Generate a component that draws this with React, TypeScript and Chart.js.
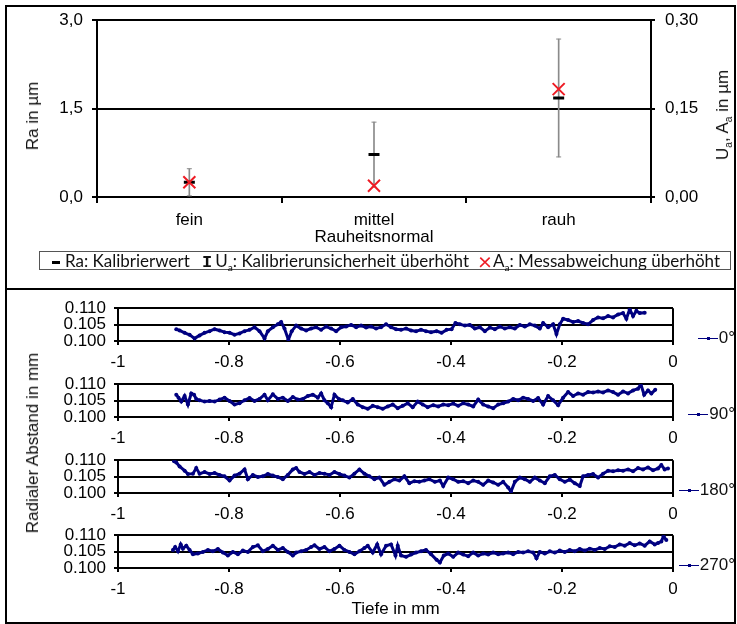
import React, { useEffect, useRef } from 'react';
import { Chart, registerables } from 'chart.js';

Chart.register(...registerables);

const FONT = '"Liberation Sans", Arial, sans-serif';
const LEGEND_FONT = 'Lato, "Open Sans", sans-serif';

// ---------- top chart data ----------
const categories = ['fein', 'mittel', 'rauh'];
const raKalibrierwert = [0.25, 0.72, 1.68]; // µm, left axis
const uaUnsicherheit = [0.023, 0.055, 0.1]; // µm, right axis
const aaMessabweichung = [0.025, 0.019, 0.183]; // µm, right axis
const ueberhoehung = 10; // ratio left axis / right axis
const raTicks = [0, 1.5, 3.0];
const uaTicks = [0, 0.15, 0.3];

// ---------- bottom charts data ----------
const depthTicks = [-1, -0.8, -0.6, -0.4, -0.2, 0];
const radialTicks = [0.1, 0.105, 0.11];

const depth0 = [-0.895,-0.889,-0.880,-0.871,-0.862,-0.853,-0.844,-0.835,-0.826,-0.817,-0.808,-0.799,-0.790,-0.781,-0.772,-0.763,-0.754,-0.745,-0.736,-0.730,-0.721,-0.712,-0.706,-0.700,-0.693,-0.687,-0.679,-0.670,-0.661,-0.652,-0.643,-0.634,-0.625,-0.616,-0.607,-0.598,-0.589,-0.580,-0.571,-0.562,-0.553,-0.544,-0.535,-0.526,-0.517,-0.508,-0.499,-0.490,-0.481,-0.472,-0.463,-0.454,-0.445,-0.436,-0.426,-0.417,-0.408,-0.399,-0.392,-0.384,-0.375,-0.366,-0.357,-0.348,-0.339,-0.330,-0.321,-0.312,-0.303,-0.294,-0.285,-0.276,-0.267,-0.258,-0.249,-0.240,-0.234,-0.225,-0.216,-0.210,-0.204,-0.198,-0.189,-0.180,-0.171,-0.162,-0.153,-0.144,-0.135,-0.126,-0.117,-0.108,-0.099,-0.090,-0.084,-0.078,-0.072,-0.066,-0.060,-0.051];
const radial0 = [0.1036,0.1032,0.1025,0.1019,0.1008,0.1017,0.1025,0.1030,0.1036,0.1032,0.1027,0.1025,0.1019,0.1023,0.1030,0.1034,0.1042,0.1030,0.1008,0.1030,0.1042,0.1051,0.1058,0.1038,0.1004,0.1030,0.1047,0.1038,0.1032,0.1038,0.1042,0.1034,0.1044,0.1038,0.1030,0.1042,0.1044,0.1049,0.1042,0.1047,0.1041,0.1044,0.1038,0.1042,0.1051,0.1042,0.1036,0.1034,0.1038,0.1032,0.1030,0.1034,0.1030,0.1027,0.1030,0.1025,0.1034,0.1036,0.1055,0.1051,0.1047,0.1049,0.1038,0.1042,0.1030,0.1041,0.1036,0.1044,0.1038,0.1042,0.1038,0.1049,0.1044,0.1051,0.1047,0.1038,0.1055,0.1042,0.1051,0.1021,0.1051,0.1068,0.1064,0.1058,0.1061,0.1055,0.1051,0.1064,0.1072,0.1069,0.1076,0.1072,0.1081,0.1085,0.1068,0.1097,0.1076,0.1092,0.1085,0.1086];

const depth90 = [-0.895,-0.891,-0.886,-0.880,-0.874,-0.868,-0.863,-0.859,-0.853,-0.844,-0.835,-0.826,-0.817,-0.808,-0.799,-0.790,-0.781,-0.772,-0.763,-0.754,-0.745,-0.736,-0.730,-0.721,-0.712,-0.703,-0.694,-0.685,-0.676,-0.667,-0.658,-0.649,-0.640,-0.634,-0.628,-0.622,-0.616,-0.610,-0.602,-0.595,-0.586,-0.577,-0.568,-0.559,-0.550,-0.541,-0.532,-0.523,-0.514,-0.505,-0.496,-0.487,-0.478,-0.469,-0.460,-0.451,-0.442,-0.432,-0.423,-0.414,-0.405,-0.396,-0.387,-0.378,-0.369,-0.360,-0.351,-0.342,-0.333,-0.324,-0.315,-0.306,-0.297,-0.288,-0.279,-0.270,-0.261,-0.252,-0.243,-0.234,-0.225,-0.216,-0.207,-0.198,-0.189,-0.180,-0.171,-0.162,-0.153,-0.144,-0.135,-0.126,-0.117,-0.108,-0.099,-0.090,-0.081,-0.072,-0.063,-0.058,-0.052,-0.045,-0.039,-0.032];
const radial90 = [0.1068,0.1059,0.1047,0.1064,0.1038,0.1072,0.1068,0.1055,0.1051,0.1047,0.1049,0.1047,0.1053,0.1059,0.1049,0.1038,0.1042,0.1051,0.1058,0.1049,0.1055,0.1068,0.1051,0.1069,0.1055,0.1059,0.1049,0.1061,0.1053,0.1055,0.1064,0.1068,0.1059,0.1072,0.1051,0.1042,0.1030,0.1068,0.1055,0.1051,0.1044,0.1055,0.1038,0.1030,0.1025,0.1034,0.1030,0.1025,0.1032,0.1038,0.1027,0.1034,0.1042,0.1030,0.1047,0.1038,0.1030,0.1036,0.1032,0.1038,0.1036,0.1041,0.1034,0.1042,0.1038,0.1032,0.1053,0.1038,0.1032,0.1027,0.1038,0.1042,0.1047,0.1055,0.1051,0.1059,0.1055,0.1049,0.1058,0.1038,0.1064,0.1051,0.1036,0.1059,0.1076,0.1064,0.1072,0.1068,0.1076,0.1075,0.1078,0.1075,0.1081,0.1076,0.1068,0.1078,0.1072,0.1081,0.1086,0.1100,0.1068,0.1081,0.1072,0.1083];

const depth180 = [-0.899,-0.895,-0.889,-0.880,-0.874,-0.865,-0.859,-0.853,-0.844,-0.835,-0.826,-0.817,-0.808,-0.799,-0.790,-0.781,-0.772,-0.766,-0.757,-0.748,-0.739,-0.730,-0.721,-0.712,-0.703,-0.694,-0.685,-0.679,-0.673,-0.664,-0.655,-0.646,-0.637,-0.628,-0.619,-0.610,-0.601,-0.592,-0.583,-0.574,-0.565,-0.556,-0.547,-0.538,-0.529,-0.520,-0.511,-0.502,-0.493,-0.484,-0.475,-0.466,-0.457,-0.448,-0.439,-0.429,-0.420,-0.414,-0.405,-0.396,-0.387,-0.378,-0.369,-0.360,-0.351,-0.342,-0.333,-0.324,-0.315,-0.306,-0.297,-0.292,-0.285,-0.276,-0.267,-0.258,-0.249,-0.240,-0.231,-0.222,-0.213,-0.204,-0.195,-0.186,-0.177,-0.168,-0.162,-0.153,-0.144,-0.135,-0.126,-0.117,-0.108,-0.099,-0.090,-0.081,-0.072,-0.063,-0.054,-0.045,-0.036,-0.027,-0.021,-0.015,-0.009];
const radial180 = [0.1097,0.1093,0.1081,0.1068,0.1058,0.1059,0.1076,0.1059,0.1064,0.1058,0.1061,0.1055,0.1051,0.1038,0.1053,0.1059,0.1072,0.1042,0.1055,0.1049,0.1051,0.1058,0.1053,0.1049,0.1042,0.1055,0.1072,0.1076,0.1064,0.1058,0.1064,0.1055,0.1061,0.1059,0.1055,0.1064,0.1058,0.1053,0.1047,0.1059,0.1072,0.1059,0.1051,0.1042,0.1047,0.1025,0.1034,0.1042,0.1038,0.1051,0.1030,0.1036,0.1034,0.1038,0.1042,0.1034,0.1038,0.1021,0.1047,0.1042,0.1034,0.1036,0.1030,0.1038,0.1034,0.1025,0.1038,0.1032,0.1025,0.1034,0.1017,0.1004,0.1034,0.1047,0.1042,0.1034,0.1047,0.1038,0.1030,0.1051,0.1055,0.1042,0.1034,0.1041,0.1030,0.1021,0.1051,0.1055,0.1058,0.1047,0.1059,0.1068,0.1066,0.1069,0.1068,0.1072,0.1066,0.1076,0.1072,0.1078,0.1069,0.1075,0.1085,0.1072,0.1075];

const depth270 = [-0.901,-0.897,-0.892,-0.887,-0.883,-0.877,-0.871,-0.865,-0.856,-0.847,-0.838,-0.829,-0.820,-0.811,-0.802,-0.793,-0.784,-0.775,-0.766,-0.757,-0.748,-0.739,-0.730,-0.721,-0.712,-0.703,-0.694,-0.685,-0.679,-0.670,-0.661,-0.652,-0.646,-0.637,-0.628,-0.619,-0.610,-0.601,-0.592,-0.583,-0.574,-0.565,-0.556,-0.550,-0.541,-0.533,-0.526,-0.517,-0.508,-0.500,-0.496,-0.490,-0.481,-0.472,-0.463,-0.454,-0.445,-0.436,-0.426,-0.420,-0.413,-0.405,-0.396,-0.387,-0.378,-0.369,-0.360,-0.351,-0.342,-0.333,-0.324,-0.315,-0.306,-0.297,-0.288,-0.279,-0.270,-0.261,-0.252,-0.246,-0.240,-0.231,-0.222,-0.213,-0.204,-0.195,-0.186,-0.177,-0.168,-0.159,-0.150,-0.141,-0.132,-0.123,-0.114,-0.105,-0.096,-0.087,-0.078,-0.069,-0.060,-0.051,-0.042,-0.033,-0.027,-0.021,-0.017,-0.012];
const radial270 = [0.1055,0.1064,0.1051,0.1072,0.1059,0.1068,0.1055,0.1042,0.1044,0.1049,0.1055,0.1051,0.1058,0.1047,0.1038,0.1049,0.1042,0.1053,0.1049,0.1064,0.1069,0.1051,0.1058,0.1068,0.1055,0.1061,0.1049,0.1038,0.1047,0.1051,0.1055,0.1064,0.1069,0.1058,0.1064,0.1051,0.1058,0.1068,0.1055,0.1049,0.1042,0.1051,0.1061,0.1068,0.1047,0.1072,0.1042,0.1068,0.1072,0.1038,0.1068,0.1038,0.1034,0.1041,0.1047,0.1051,0.1055,0.1042,0.1025,0.1017,0.1038,0.1044,0.1034,0.1047,0.1041,0.1036,0.1047,0.1038,0.1044,0.1041,0.1047,0.1042,0.1044,0.1047,0.1042,0.1049,0.1047,0.1051,0.1047,0.1030,0.1049,0.1044,0.1051,0.1047,0.1053,0.1049,0.1055,0.1051,0.1058,0.1053,0.1059,0.1055,0.1061,0.1058,0.1066,0.1064,0.1072,0.1068,0.1076,0.1069,0.1075,0.1068,0.1081,0.1072,0.1076,0.1081,0.1097,0.1085];

const angleSeries = [
  { label: '0°', depth: depth0, radial: radial0 },
  { label: '90°', depth: depth90, radial: radial90 },
  { label: '180°', depth: depth180, radial: radial180 },
  { label: '270°', depth: depth270, radial: radial270 },
];

// ---------- layout ----------
const TOP_H = 250;
const PLOT_TOPS = [302, 378, 454, 529];
const PLOT_H = 39;
const PAD_TOP = 12;

function TopChart() {
  const ref = useRef<HTMLCanvasElement>(null);
  useEffect(() => {
    const errLow = raKalibrierwert.map((r, i) => r - uaUnsicherheit[i] * ueberhoehung);
    const errHigh = raKalibrierwert.map((r, i) => r + uaUnsicherheit[i] * ueberhoehung);
    const tickFont = { size: 17, family: FONT };
    const chart = new Chart(ref.current as HTMLCanvasElement, {
      type: 'bar',
      data: {
        labels: categories,
        datasets: [
          {
            type: 'line', label: 'Aa', data: aaMessabweichung, yAxisID: 'y1', showLine: false,
            pointStyle: 'crossRot', pointRadius: 8.5, pointBorderWidth: 2,
            pointBorderColor: '#ee1c25', pointBackgroundColor: '#ee1c25', order: 0,
          } as any,
          {
            type: 'line', label: 'Ra', data: raKalibrierwert, yAxisID: 'y', showLine: false,
            pointStyle: 'line', pointRadius: 5.5, pointBorderWidth: 3,
            pointBorderColor: '#000', pointBackgroundColor: '#000', order: 1,
          } as any,
          {
            type: 'line', label: 'low', data: errLow, yAxisID: 'y', showLine: false,
            pointStyle: 'line', pointRadius: 2.5, pointBorderWidth: 1,
            pointBorderColor: '#8a8a8a', order: 2,
          } as any,
          {
            type: 'line', label: 'high', data: errHigh, yAxisID: 'y', showLine: false,
            pointStyle: 'line', pointRadius: 2.5, pointBorderWidth: 1,
            pointBorderColor: '#8a8a8a', order: 2,
          } as any,
          {
            type: 'bar', label: 'Ua', data: errLow.map((l, i) => [l, errHigh[i]]), yAxisID: 'y',
            backgroundColor: '#8a8a8a', barThickness: 1, order: 3,
          } as any,
        ],
      },
      options: {
        animation: false,
        responsive: false,
        layout: { padding: { top: 20, left: 0, right: 0, bottom: 0 } },
        plugins: { legend: { display: false }, tooltip: { enabled: false } },
        scales: {
          x: {
            type: 'category',
            offset: true,
            grid: { offset: true, drawOnChartArea: false, drawTicks: true, tickLength: 6, color: '#000', tickColor: '#000', lineWidth: 2 },
            border: { display: true, color: '#000', width: 2 },
            ticks: { color: '#000', font: tickFont, padding: 7 },
            title: { display: true, text: 'Rauheitsnormal', color: '#000', font: tickFont, padding: { top: 0, bottom: 2 } },
            afterFit: (s: any) => { s.height = 53; },
          },
          y: {
            position: 'left',
            min: 0, max: 3,
            afterBuildTicks: (s: any) => { s.ticks = raTicks.map((v) => ({ value: v })); },
            ticks: { autoSkip: false, color: '#000', font: tickFont, padding: 9, callback: (v: any) => Number(v).toFixed(1).replace('.', ',') },
            grid: { color: '#000', lineWidth: 2, tickLength: 5 },
            border: { display: true, color: '#000', width: 2 },
            afterFit: (s: any) => { s.width = 97; },
          },
          y1: {
            position: 'right',
            min: 0, max: 0.3,
            afterBuildTicks: (s: any) => { s.ticks = uaTicks.map((v) => ({ value: v })); },
            ticks: { autoSkip: false, color: '#000', font: tickFont, padding: 10, callback: (v: any) => Number(v).toFixed(2).replace('.', ',') },
            grid: { drawOnChartArea: false, color: '#000', lineWidth: 2, tickLength: 4 },
            border: { display: true, color: '#000', width: 2 },
            afterFit: (s: any) => { s.width = 86; },
          },
        },
      } as any,
    });
    return () => chart.destroy();
  }, []);
  return <canvas ref={ref} width={737} height={TOP_H} style={{ position: 'absolute', left: 0, top: 0 }} />;
}

function DepthChart({ depth, radial, plotTop, showTitle }: { depth: number[]; radial: number[]; plotTop: number; showTitle: boolean }) {
  const ref = useRef<HTMLCanvasElement>(null);
  const axisH = showTitle ? 56 : 30;
  const h = PAD_TOP + PLOT_H + axisH;
  useEffect(() => {
    const tickFont = { size: 17, family: FONT };
    const chart = new Chart(ref.current as HTMLCanvasElement, {
      type: 'scatter',
      data: {
        datasets: [
          {
            data: depth.map((d, i) => ({ x: d, y: radial[i] })),
            showLine: true,
            borderColor: '#000080',
            backgroundColor: '#000080',
            borderWidth: 3,
            pointRadius: 2,
            pointBorderWidth: 0,
          },
        ],
      },
      options: {
        animation: false,
        responsive: false,
        layout: { padding: { top: PAD_TOP, right: 64, left: 0, bottom: 0 } },
        plugins: { legend: { display: false }, tooltip: { enabled: false } },
        scales: {
          x: {
            type: 'linear',
            min: -1, max: 0,
            afterBuildTicks: (s: any) => { s.ticks = depthTicks.map((v) => ({ value: v })); },
            ticks: { autoSkip: false, maxRotation: 0, color: '#000', font: tickFont, padding: 7, callback: (v: any) => String(v) },
            grid: {
              color: (ctx: any) => (ctx.tick && ctx.tick.value === 0 ? '#000' : 'rgba(0,0,0,0)'),
              tickColor: '#000',
              lineWidth: 2,
              tickLength: 4,
            },
            border: { display: true, color: '#000', width: 2 },
            title: { display: showTitle, text: 'Tiefe in mm', color: '#000', font: tickFont, padding: { top: 0, bottom: 4 } },
            afterFit: (s: any) => { s.height = axisH; },
          },
          y: {
            min: 0.1, max: 0.11,
            afterBuildTicks: (s: any) => { s.ticks = radialTicks.map((v) => ({ value: v })); },
            ticks: { autoSkip: false, color: '#000', font: tickFont, padding: 8, callback: (v: any) => Number(v).toFixed(3) },
            grid: { color: '#000', lineWidth: 2, tickLength: 4 },
            border: { display: true, color: '#000', width: 2 },
            afterFit: (s: any) => { s.width = 118; },
          },
        },
      } as any,
    });
    return () => chart.destroy();
  }, []);
  return <canvas ref={ref} width={737} height={h} style={{ position: 'absolute', left: 0, top: plotTop - PAD_TOP }} />;
}

const subStyle: React.CSSProperties = { fontSize: '0.6em', verticalAlign: 'sub', lineHeight: 0 };

function rotated(cx: number, cy: number, content: React.ReactNode, size = 17) {
  return (
    <div
      style={{
        position: 'absolute', left: cx, top: cy, transform: 'translate(-50%, -50%) rotate(-90deg)',
        whiteSpace: 'nowrap', fontFamily: FONT, fontSize: size, color: '#111', lineHeight: '20px',
      }}
    >
      {content}
    </div>
  );
}

const legendItem: React.CSSProperties = { position: 'absolute', top: 0, height: 17, lineHeight: '17px', whiteSpace: 'nowrap' };

export default function App() {
  return (
    <div style={{ position: 'absolute', left: 0, top: 0, width: 737, height: 624, background: '#fff', overflow: 'hidden' }}>
      <div style={{ position: 'absolute', left: 5, top: 5, width: 731, height: 619, border: '2px solid #000', boxSizing: 'border-box' }} />
      <div style={{ position: 'absolute', left: 5, top: 288, width: 731, height: 2, background: '#000' }} />

      <TopChart />
      {rotated(33, 116, <span>Ra in µm</span>)}
      {rotated(723, 115, <span>U<sub style={subStyle}>a</sub>, A<sub style={subStyle}>a</sub> in µm</span>)}

      <div
        style={{
          position: 'absolute', left: 39, top: 251, width: 692, height: 19, border: '1px solid #555',
          boxSizing: 'border-box', fontFamily: LEGEND_FONT, fontSize: 17, color: '#111', background: '#fff',
        }}
      >
        <span style={{ ...legendItem, left: 12 }}>
          <span style={{ display: 'inline-block', width: 8, height: 2.5, background: '#000', verticalAlign: 'middle', marginRight: 5 }} />
          Ra: Kalibrierwert
        </span>
        <span style={{ ...legendItem, left: 162 }}>
          <span style={{ fontFamily: '"Liberation Mono", monospace', fontWeight: 'bold', marginRight: 3 }}>I</span>
          U<sub style={subStyle}>a</sub>: Kalibrierunsicherheit überhöht
        </span>
        <span style={{ ...legendItem, left: 438 }}>
          <span style={{ display: 'inline-block', color: '#ee1c25', fontSize: 24, height: 17, lineHeight: '17px', verticalAlign: 'top', marginRight: 1 }}>×</span>
          A<sub style={subStyle}>a</sub>: Messabweichung überhöht
        </span>
      </div>

      {angleSeries.map((s, i) => (
        <DepthChart key={s.label} depth={s.depth} radial={s.radial} plotTop={PLOT_TOPS[i]} showTitle={i === angleSeries.length - 1} />
      ))}
      {angleSeries.map((s, i) => (
        <div
          key={'lg' + s.label}
          style={{
            position: 'absolute', right: 2, top: PLOT_TOPS[i] + PLOT_H - 3 - 10, height: 20, display: 'flex',
            alignItems: 'center', fontFamily: FONT, fontSize: 17, color: '#111', whiteSpace: 'nowrap',
          }}
        >
          <span style={{ position: 'relative', display: 'inline-block', width: 20, height: 1, background: '#000080', marginRight: 1 }}>
            <span style={{ position: 'absolute', left: 9, top: -1, width: 3, height: 3, background: '#000080' }} />
          </span>
          <span>{s.label}</span>
        </div>
      ))}
      {rotated(33, 443, <span>Radialer Abstand in mm</span>)}
    </div>
  );
}
